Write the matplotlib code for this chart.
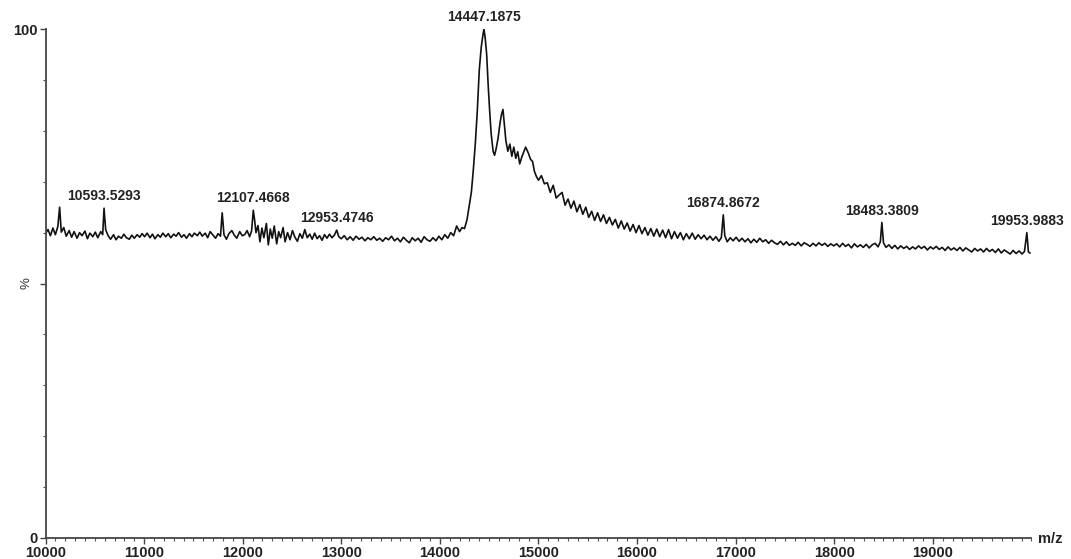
import numpy as np
import matplotlib
matplotlib.use('Agg')
import matplotlib.pyplot as plt
from matplotlib.ticker import MultipleLocator, FixedLocator

plt.rcParams['font.family'] = ['Liberation Sans', 'DejaVu Sans']

# labelled peaks (m/z)
peak_labels = [10593.5293, 12107.4668, 12953.4746, 14447.1875,
               16874.8672, 18483.3809, 19953.9883]

# spectrum, split in m/z ranges
mz_1 = [10000, 10025, 10050, 10075, 10100, 10125, 10143, 10160, 10185, 10210,
        10240, 10265, 10290, 10320, 10345, 10370, 10400, 10425, 10450, 10480,
        10505, 10530, 10560, 10580, 10593.5293, 10610, 10635, 10660, 10690, 10715,
        10740, 10770, 10795, 10820, 10850, 10875, 10900, 10930, 10955, 10980]
int_1 = [59.8, 60.6, 59.4, 60.9, 59.6, 61.2, 65.0, 60.1, 61.0, 59.3,
         60.4, 59.1, 60.2, 58.9, 60.0, 59.4, 60.3, 58.8, 59.9, 59.2,
         60.1, 59.0, 60.2, 59.6, 64.8, 60.6, 59.4, 58.7, 59.6, 58.6,
         59.3, 58.9, 59.7, 59.0, 58.7, 59.5, 58.9, 59.6, 59.1, 59.8]

mz_2 = [11005, 11030, 11060, 11085, 11110, 11140, 11165, 11190, 11220, 11245,
        11270, 11300, 11325, 11350, 11380, 11405, 11430, 11460, 11485, 11510,
        11540, 11565, 11590, 11620, 11645, 11670, 11700, 11725, 11750, 11775,
        11792, 11810, 11835, 11860, 11890, 11915, 11940, 11970, 11995]
int_2 = [59.2, 59.9, 59.0, 59.7, 58.8, 59.6, 59.1, 59.9, 59.2, 59.8,
         59.0, 59.7, 59.3, 60.0, 59.1, 59.6, 58.9, 59.8, 59.2, 59.9,
         59.4, 60.1, 59.3, 59.9, 59.0, 60.2, 59.5, 58.9, 59.8, 59.3,
         63.9, 59.6, 58.7, 59.8, 60.4, 59.5, 58.9, 60.2, 59.4]

mz_3 = [12020, 12045, 12070, 12090, 12107.4668, 12120, 12135, 12155, 12175, 12195,
        12215, 12240, 12260, 12280, 12300, 12320, 12345, 12365, 12385, 12410,
        12430, 12455, 12480, 12505, 12530, 12555, 12580, 12605, 12630, 12655,
        12680, 12705, 12730, 12755, 12780, 12805, 12830, 12855, 12880, 12905,
        12930, 12953.4746, 12975]
int_3 = [59.6, 60.4, 59.2, 60.3, 64.4, 62.6, 60.0, 61.4, 58.2, 60.9,
         59.0, 61.8, 57.6, 60.7, 58.9, 61.3, 57.8, 60.2, 59.0, 61.0,
         58.2, 60.0, 58.6, 60.4, 59.1, 58.3, 59.8, 58.9, 60.6, 59.0,
         59.7, 58.7, 59.9, 58.8, 59.4, 58.5, 59.6, 58.9, 59.7, 59.0,
         59.5, 60.5, 59.2]

mz_4 = [13000, 13030, 13060, 13090, 13120, 13150, 13180, 13210, 13240, 13270,
        13300, 13330, 13360, 13390, 13420, 13450, 13480, 13510, 13540, 13570,
        13600, 13630, 13660, 13690, 13720, 13750, 13780, 13810, 13840, 13870,
        13900, 13930, 13960, 13990, 14020, 14050, 14080, 14110, 14140, 14170]
int_4 = [58.8, 59.4, 58.6, 59.2, 58.5, 59.3, 58.7, 59.1, 58.4, 59.0,
         58.6, 59.2, 58.5, 58.9, 58.3, 59.0, 58.6, 59.3, 58.4, 58.9,
         58.2, 59.1, 58.5, 58.0, 59.0, 58.4, 58.9, 58.1, 59.2, 58.6,
         58.3, 59.0, 58.4, 59.3, 58.6, 59.6, 58.9, 60.0, 59.4, 61.3]

mz_5 = [14200, 14225, 14250, 14275, 14300, 14320, 14340, 14360, 14380, 14400,
        14420, 14435, 14447.1875, 14460, 14475, 14490, 14505, 14520, 14540, 14555,
        14570, 14590, 14610, 14625, 14640, 14655, 14670, 14690, 14710, 14730,
        14750, 14770, 14790, 14810, 14830, 14850, 14870, 14885, 14900, 14920,
        14940, 14960, 14980, 15000]
int_5 = [60.2, 61.0, 60.8, 62.5, 65.5, 68.0, 72.5, 77.6, 84.0, 92.0,
         96.5, 98.6, 100.0, 98.2, 95.0, 89.0, 84.0, 79.5, 76.0, 75.2,
         76.4, 78.5, 81.5, 83.2, 84.2, 81.0, 78.0, 76.0, 77.4, 75.0,
         76.8, 74.6, 75.9, 73.5, 74.8, 75.8, 76.8, 76.2, 75.5, 74.4,
         74.0, 72.0, 71.0, 70.3]

mz_6 = [15030, 15060, 15090, 15120, 15150, 15180, 15210, 15240, 15270, 15300,
        15330, 15360, 15390, 15420, 15450, 15480, 15510, 15540, 15570, 15600,
        15630, 15660, 15690, 15720, 15750, 15780, 15810, 15840, 15870, 15900,
        15930, 15960, 15990, 16020, 16050, 16080, 16110, 16140, 16170, 16200,
        16230, 16260, 16290, 16320, 16350, 16380, 16410, 16440, 16470, 16500,
        16530, 16560, 16590]
int_6 = [71.2, 69.6, 69.8, 67.9, 69.3, 66.8, 67.4, 67.9, 65.4, 66.6,
         64.8, 66.2, 64.1, 65.5, 63.6, 65.0, 63.0, 64.2, 62.4, 63.9,
         62.2, 63.5, 61.8, 63.0, 61.5, 62.6, 60.9, 62.3, 60.7, 61.9,
         60.3, 61.6, 60.0, 61.4, 59.8, 61.0, 59.5, 60.8, 59.3, 60.7,
         59.2, 60.5, 59.0, 60.6, 58.8, 60.2, 58.9, 60.0, 58.6, 59.8,
         58.8, 59.9, 58.7]

mz_7 = [16620, 16650, 16680, 16710, 16740, 16770, 16800, 16830, 16855, 16874.8672,
        16890, 16915, 16945, 16975, 17005, 17035, 17065, 17095, 17125, 17155,
        17185, 17215, 17245, 17275, 17305, 17335, 17365, 17395, 17425, 17455,
        17485, 17515, 17545, 17575, 17605, 17635, 17665, 17695, 17725, 17755,
        17785, 17815, 17845, 17875, 17905, 17935, 17965, 17995]
int_7 = [59.6, 58.8, 59.5, 58.6, 59.3, 58.5, 59.2, 58.3, 59.0, 63.5,
         59.4, 58.2, 59.0, 58.4, 59.1, 58.3, 58.9, 58.2, 58.8, 58.0,
         58.7, 58.1, 58.9, 58.2, 58.6, 57.9, 58.5, 58.0, 57.7, 58.3,
         57.6, 58.2, 57.5, 57.9, 57.5, 58.1, 57.4, 58.0, 57.7, 57.3,
         57.9, 57.4, 58.0, 57.5, 57.9, 57.3, 57.8, 57.4]

mz_8 = [18025, 18055, 18085, 18115, 18145, 18175, 18205, 18235, 18265, 18295,
        18325, 18355, 18385, 18415, 18445, 18468, 18483.3809, 18500, 18525, 18555,
        18585, 18615, 18645, 18675, 18705, 18735, 18765, 18795, 18825, 18855,
        18885, 18915, 18945, 18975, 19005, 19035, 19065, 19095, 19125, 19155,
        19185, 19215, 19245, 19275, 19305, 19335, 19365, 19395, 19425, 19455,
        19485, 19515, 19545, 19575, 19605, 19635, 19665, 19695, 19725, 19755,
        19785, 19815, 19845, 19875, 19905, 19930, 19953.9883, 19970, 19985]
int_8 = [57.8, 57.2, 57.9, 57.3, 57.7, 57.0, 57.8, 57.2, 57.6, 57.1,
         57.7, 57.0, 57.6, 57.9, 57.2, 58.2, 62.0, 58.0, 57.1, 57.6,
         56.9, 57.5, 56.8, 57.4, 56.9, 57.3, 56.7, 57.2, 56.8, 57.4,
         56.9, 57.3, 56.6, 57.2, 56.8, 57.3, 56.7, 57.1, 56.5, 57.2,
         56.6, 57.0, 56.5, 57.1, 56.4, 57.0, 56.6, 56.2, 56.9, 56.4,
         56.8, 56.2, 56.9, 56.3, 56.7, 56.1, 56.8, 56.0, 56.6, 56.2,
         55.8, 56.5, 55.9, 56.4, 55.8, 56.3, 60.0, 56.2, 56.0]

mz = np.concatenate([mz_1, mz_2, mz_3, mz_4, mz_5, mz_6, mz_7, mz_8])
intensity = np.concatenate([int_1, int_2, int_3, int_4, int_5, int_6, int_7, int_8])

fig = plt.figure(figsize=(10.71, 5.59), dpi=100)
ax = fig.add_axes([0.0425, 0.0376, 0.9205, 0.9104])

ax.plot(mz, intensity, color='#111111', linewidth=1.2)

# peak annotations above each labelled peak
for p in peak_labels:
    y = intensity[np.argmin(np.abs(mz - p))]
    ax.annotate(f'{p:.4f}', xy=(p, y), xytext=(0, 3.5), textcoords='offset points',
                ha='center', va='bottom', fontsize=10, fontweight='bold',
                color='#222222')

ax.set_xlim(10000, 20000)
ax.set_ylim(0, 100)

for side in ['top', 'right']:
    ax.spines[side].set_visible(False)
for side in ['left', 'bottom']:
    ax.spines[side].set_color('#444444')
    ax.spines[side].set_linewidth(1.3)

ax.xaxis.set_major_locator(FixedLocator(range(10000, 20000, 1000)))
ax.xaxis.set_minor_locator(MultipleLocator(100))
ax.yaxis.set_major_locator(FixedLocator([0, 50, 100]))
ax.yaxis.set_minor_locator(MultipleLocator(10))
ax.set_yticklabels(['0', '', '100'])

ax.tick_params(axis='both', which='major', length=4, width=1.0, color='#444444',
               labelsize=10.5, labelcolor='#222222', pad=2)
ax.tick_params(axis='both', which='minor', length=2.5, width=0.8, color='#555555')
for lab in ax.get_xticklabels() + ax.get_yticklabels():
    lab.set_fontweight('bold')

ax.annotate('%', xy=(0, 50), xycoords=('axes fraction', 'data'), xytext=(-14, 0),
            textcoords='offset points', rotation=90, ha='center', va='center',
            fontsize=9.5, color='#333333')
ax.annotate('m/z', xy=(1, 0), xycoords='axes fraction', xytext=(5, -1),
            textcoords='offset points', ha='left', va='center',
            fontsize=10.5, fontweight='bold', color='#222222')

fig.savefig('out.png', dpi=100)
